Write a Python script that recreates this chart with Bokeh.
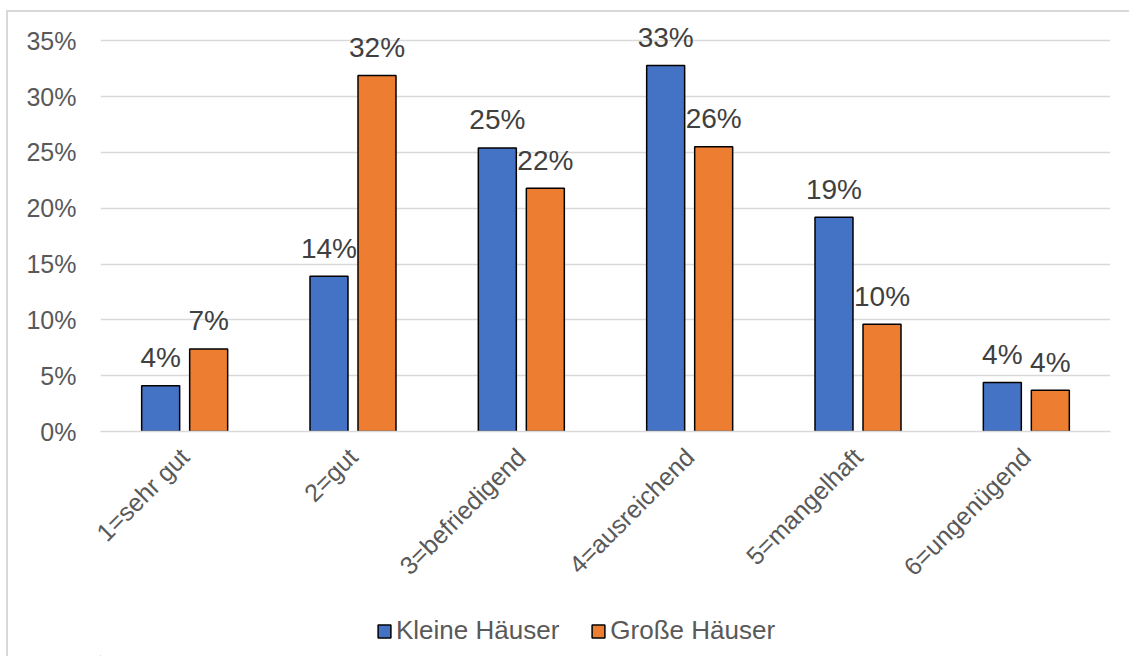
import math
from bokeh.plotting import figure
from bokeh.layouts import column
from bokeh.models import (ColumnDataSource, FixedTicker, NumeralTickFormatter,
                          Range1d, Legend, LegendItem)
from bokeh.core.properties import value
from bokeh.embed import file_html
from bokeh.resources import INLINE

categories = ["1=sehr gut", "2=gut", "3=befriedigend", "4=ausreichend",
              "5=mangelhaft", "6=ungenügend"]
kleine = [0.041, 0.139, 0.254, 0.328, 0.192, 0.044]
grosse = [0.074, 0.319, 0.218, 0.255, 0.096, 0.037]
kleine_labels = ["4%", "14%", "25%", "33%", "19%", "4%"]
grosse_labels = ["7%", "32%", "22%", "26%", "10%", "4%"]
series_names = ["Kleine Häuser", "Große Häuser"]
y_ticks = [0, 0.05, 0.10, 0.15, 0.20, 0.25, 0.30, 0.35]

FONT = "Liberation Sans"
TXT = "#595959"
BLUE = "#4472C4"
ORANGE = "#ED7D31"
OFF = 0.1426
BW = 0.2257

centers = [i + 0.5 for i in range(len(categories))]
src_k = ColumnDataSource(dict(x=[c - OFF for c in centers], top=kleine, lab=kleine_labels))
src_g = ColumnDataSource(dict(x=[c + OFF for c in centers], top=grosse, lab=grosse_labels))

# y range extends a little above 35% so the data labels above the top gridline are not clipped
p = figure(width=1123, height=596, output_backend="svg", toolbar_location=None,
           x_range=Range1d(0, 6), y_range=Range1d(0, 0.37),
           min_border_left=92, min_border_right=21, min_border_top=6,
           min_border_bottom=177)
p.styles = {"border-top": "2px solid #d9d9d9", "border-left": "2px solid #d9d9d9",
            "margin-top": "10px", "margin-left": "6px"}
p.outline_line_color = None
p.background_fill_color = "white"
p.border_fill_color = "white"

p.vbar(x="x", top="top", width=BW, bottom=0, source=src_k,
       fill_color=BLUE, line_color="black", line_width=1.5)
p.vbar(x="x", top="top", width=BW, bottom=0, source=src_g,
       fill_color=ORANGE, line_color="black", line_width=1.5)

for s in (src_k, src_g):
    p.text(x="x", y="top", text="lab", source=s, text_align="center",
           text_baseline="alphabetic", y_offset=-28, text_color="#404040",
           text_font=value(FONT), text_font_size="28px")

p.xgrid.visible = False
p.ygrid.grid_line_color = "#d9d9d9"
p.ygrid.grid_line_width = 1.3
p.ygrid.ticker = FixedTicker(ticks=y_ticks)

p.yaxis.ticker = FixedTicker(ticks=y_ticks)
p.yaxis.formatter = NumeralTickFormatter(format="0%")
p.yaxis.axis_line_color = None
p.yaxis.major_tick_line_color = None
p.yaxis.minor_tick_line_color = None
p.yaxis.major_label_standoff = 18
p.yaxis.major_label_text_font = FONT
p.yaxis.major_label_text_font_size = "25px"
p.yaxis.major_label_text_color = TXT

p.xaxis.ticker = FixedTicker(ticks=centers)
p.xaxis.major_label_overrides = {c: cat for c, cat in zip(centers, categories)}
p.xaxis.major_label_orientation = math.pi / 4
p.xaxis.axis_line_color = "#d9d9d9"
p.xaxis.axis_line_width = 1.3
p.xaxis.major_tick_line_color = None
p.xaxis.minor_tick_line_color = None
p.xaxis.major_label_standoff = 15
p.xaxis.major_label_text_font = FONT
p.xaxis.major_label_text_font_size = "25px"
p.xaxis.major_label_text_color = TXT

# legend strip below the chart
lp = figure(width=1123, height=50, output_backend="svg", toolbar_location=None,
            x_range=Range1d(0, 1), y_range=Range1d(0, 1),
            min_border_left=0, min_border_right=0, min_border_top=0,
            min_border_bottom=0)
lp.styles = {"border-left": "2px solid #d9d9d9", "margin-left": "6px"}
lp.axis.visible = False
lp.grid.visible = False
lp.outline_line_color = None
lp.border_fill_color = "white"
# swatch renderers kept far outside the visible range; only their legend glyphs show
dk = lp.vbar(x=[-50], top=[-50], bottom=[-51], width=0.1, fill_color=BLUE,
             line_color="black", line_width=1.5)
dg = lp.vbar(x=[-50], top=[-50], bottom=[-51], width=0.1, fill_color=ORANGE,
             line_color="black", line_width=1.5)

legend = Legend(items=[LegendItem(label=series_names[0], renderers=[dk]),
                       LegendItem(label=series_names[1], renderers=[dg])],
                orientation="horizontal", location=(276, 10),
                glyph_width=16, glyph_height=16, label_height=16,
                label_standoff=4, spacing=31, padding=0, margin=0,
                border_line_color=None, background_fill_alpha=0,
                label_text_font=FONT, label_text_font_size="26px",
                label_text_color=TXT, label_text_baseline="middle")
lp.add_layout(legend, "center")

layout = column(p, lp, spacing=0)
open("out.html", "w").write(file_html(layout, INLINE))
